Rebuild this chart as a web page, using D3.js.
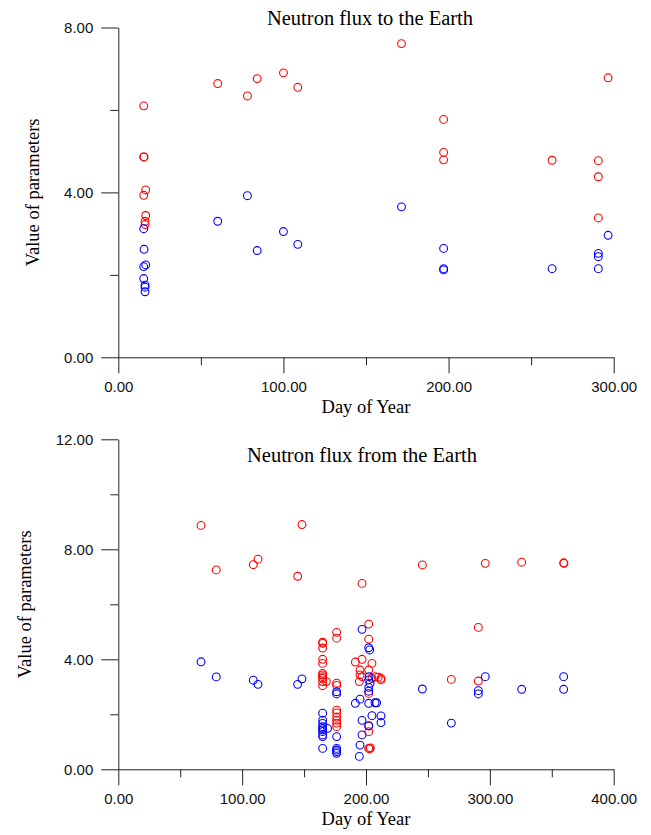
<!DOCTYPE html>
<html>
<head>
<meta charset="utf-8">
<script src="https://cdn.jsdelivr.net/npm/d3@7"></script>
<style>
    body { margin: 0; background: #fff; }
    .chart-title, .axis-label { font-family: "Liberation Serif", "Times New Roman", serif; fill: #000; }
    .chart-title { font-size: 20.5px; }
    .axis-label { font-size: 18.5px; }
    .axis text { font-family: "Liberation Sans", Arial, sans-serif; font-size: 15px; fill: #111; }
    .axis path, .axis line { stroke: #222; }
</style>
</head>
<body>
<div id="chart"></div>
<script>
// Neutron flux to the Earth (top panel)
const toRedDay = [15.4, 15.4, 15.6, 16.6, 15.4, 16.6, 16.2, 16.2, 60.2, 78.2, 84.1, 100, 108.7, 171.5, 197, 197, 197, 262.7, 290.7, 290.7, 290.7, 296.6];
const toRedVal = [6.10, 4.86, 4.86, 4.06, 3.93, 3.44, 3.30, 3.22, 6.64, 6.34, 6.76, 6.90, 6.55, 7.61, 5.77, 4.97, 4.79, 4.78, 4.77, 4.38, 3.38, 6.78];
const toBlueDay = [15.4, 15.6, 15.4, 16.6, 15.4, 16.2, 16.2, 16.2, 60.2, 78.2, 84.1, 100, 108.7, 171.5, 197, 197, 197, 262.7, 290.7, 290.7, 290.7, 296.6];
const toBlueVal = [3.12, 2.62, 2.20, 2.24, 1.91, 1.75, 1.70, 1.59, 3.30, 3.92, 2.59, 3.05, 2.74, 3.65, 2.64, 2.15, 2.12, 2.15, 2.52, 2.44, 2.15, 2.96];

// Neutron flux from the Earth (bottom panel)
const fromRedDay = [66.8, 79.1, 109, 112.8, 144.8, 148.3,
    165, 165, 165, 165, 165, 165, 165, 165, 165, 165, 165, 168,
    176.3, 176.3, 176.3, 176.3, 176.3, 176.3, 176.3, 176.3, 176.3, 176.3,
    196.8, 202.2, 202.2, 191.4, 196.8, 204.8, 195.2, 202.2, 195.2, 196.8, 194.6, 204.8, 207.3, 209.9, 212.1, 212.1,
    202.2, 202.2, 202.2, 202.2, 203, 203.5,
    245.5, 296.3, 325.7, 359.6, 359.8, 290.7, 268.9, 290.7];
const fromRedVal = [8.87, 7.25, 7.44, 7.64, 7.02, 8.90,
    4.62, 4.58, 4.41, 4.00, 3.85, 3.49, 3.43, 3.37, 3.31, 3.19, 3.04, 3.19,
    4.98, 4.77, 3.13, 3.05, 2.15, 2.05, 1.90, 1.78, 1.68, 1.55,
    6.76, 5.28, 4.73, 3.90, 4.00, 3.85, 3.61, 3.61, 3.43, 3.37, 3.19, 3.31, 3.37, 3.35, 3.31, 3.25,
    2.76, 1.57, 1.37, 0.76, 0.74, 0.78,
    7.43, 7.49, 7.53, 7.51, 7.49, 5.16, 3.27, 3.21];
const fromBlueDay = [66.8, 79.1, 109, 112.8, 144.8, 148.3,
    165, 165, 165, 165, 165, 165, 165, 165, 165, 165, 169,
    176.3, 176.3, 176.3, 176.3, 176.3, 176.3, 176.3,
    196.8, 202.2, 203, 202.5, 202.2, 203.3, 202.2, 202.2, 191.4, 195.2, 202.2, 207.3, 208.6,
    196.8, 204.8, 212.1, 212.1, 202.2, 196.8, 195.2, 194.6,
    245.5, 296.3, 325.7, 359.6, 359.6, 290.7, 290.7, 268.9];
const fromBlueVal = [3.91, 3.36, 3.24, 3.09, 3.09, 3.29,
    2.04, 1.79, 1.67, 1.55, 1.49, 1.43, 1.37, 1.25, 1.19, 0.76, 1.49,
    2.82, 2.74, 1.19, 0.76, 0.70, 0.64, 0.58,
    5.09, 4.42, 4.34, 3.37, 3.25, 3.13, 2.98, 2.84, 2.40, 2.55, 2.40, 2.42, 2.42,
    1.78, 1.95, 1.94, 1.70, 1.59, 1.25, 0.88, 0.47,
    2.92, 3.37, 2.91, 3.37, 2.91, 2.86, 2.74, 1.68];

// Tick values for each panel
const toXTicks = [0, 100, 200, 300];
const toXMinor = [50, 150, 250];
const toYTicks = [0, 4, 8];
const toYMinor = [2, 6];
const fromXTicks = [0, 100, 200, 300, 400];
const fromXMinor = [50, 150, 250, 350];
const fromYTicks = [0, 4, 8, 12];
const fromYMinor = [2, 6, 10];

const width = 651;
const height = 835;

const svg = d3.select("#chart")
    .append("svg")
    .attr("width", width)
    .attr("height", height);

const fmt = d3.format(".2f");

// Draw one scatter panel with its axes, labels and two series.
function drawPanel(p) {
    const x = d3.scaleLinear().domain(p.xDomain).range([p.left, p.right]);
    const y = d3.scaleLinear().domain(p.yDomain).range([p.bottom, p.top]);
    const g = svg.append("g");

    // major ticks with labels
    g.append("g")
        .attr("class", "axis")
        .attr("transform", `translate(0, ${p.bottom})`)
        .call(d3.axisBottom(x).tickValues(p.xTicks).tickFormat(fmt).tickSize(16).tickSizeOuter(0).tickPadding(8));
    g.append("g")
        .attr("class", "axis")
        .attr("transform", `translate(${p.left}, 0)`)
        .call(d3.axisLeft(y).tickValues(p.yTicks).tickFormat(fmt).tickSize(17).tickSizeOuter(0).tickPadding(8));

    // minor ticks
    g.append("g")
        .attr("class", "axis")
        .attr("transform", `translate(0, ${p.bottom})`)
        .call(d3.axisBottom(x).tickValues(p.xMinor).tickFormat("").tickSize(8).tickSizeOuter(0))
        .select(".domain").remove();
    g.append("g")
        .attr("class", "axis")
        .attr("transform", `translate(${p.left}, 0)`)
        .call(d3.axisLeft(y).tickValues(p.yMinor).tickFormat("").tickSize(8).tickSizeOuter(0))
        .select(".domain").remove();

    // series as open circles
    p.series.forEach(function(s) {
        g.append("g")
            .selectAll("circle")
            .data(d3.zip(s.day, s.val))
            .join("circle")
            .attr("cx", d => x(d[0]))
            .attr("cy", d => y(d[1]))
            .attr("r", 3.9)
            .attr("fill", "none")
            .attr("stroke", s.color)
            .attr("stroke-width", 1.1);
    });

    g.append("text")
        .attr("class", "chart-title")
        .attr("x", p.titleX)
        .attr("y", p.titleY)
        .attr("text-anchor", "middle")
        .text(p.title);

    g.append("text")
        .attr("class", "axis-label")
        .attr("x", 366)
        .attr("y", p.bottom + 56)
        .attr("text-anchor", "middle")
        .text("Day of Year");

    g.append("text")
        .attr("class", "axis-label")
        .attr("transform", `translate(${p.yLabelX}, ${(p.top + p.bottom) / 2}) rotate(-90)`)
        .attr("text-anchor", "middle")
        .text("Value of parameters");
}

drawPanel({
    xDomain: [0, 300], yDomain: [0, 8],
    left: 118.3, right: 613.7, top: 27.5, bottom: 357.3,
    xTicks: toXTicks, xMinor: toXMinor, yTicks: toYTicks, yMinor: toYMinor,
    title: "Neutron flux to the Earth", titleX: 370, titleY: 25,
    yLabelX: 39,
    series: [
        { day: toRedDay, val: toRedVal, color: "#ff0000" },
        { day: toBlueDay, val: toBlueVal, color: "#0000ff" }
    ]
});

drawPanel({
    xDomain: [0, 400], yDomain: [0, 12],
    left: 118.3, right: 613.7, top: 439.3, bottom: 769.3,
    xTicks: fromXTicks, xMinor: fromXMinor, yTicks: fromYTicks, yMinor: fromYMinor,
    title: "Neutron flux from the Earth", titleX: 362, titleY: 462,
    yLabelX: 31,
    series: [
        { day: fromRedDay, val: fromRedVal, color: "#ff0000" },
        { day: fromBlueDay, val: fromBlueVal, color: "#0000ff" }
    ]
});
</script>
</body>
</html>
